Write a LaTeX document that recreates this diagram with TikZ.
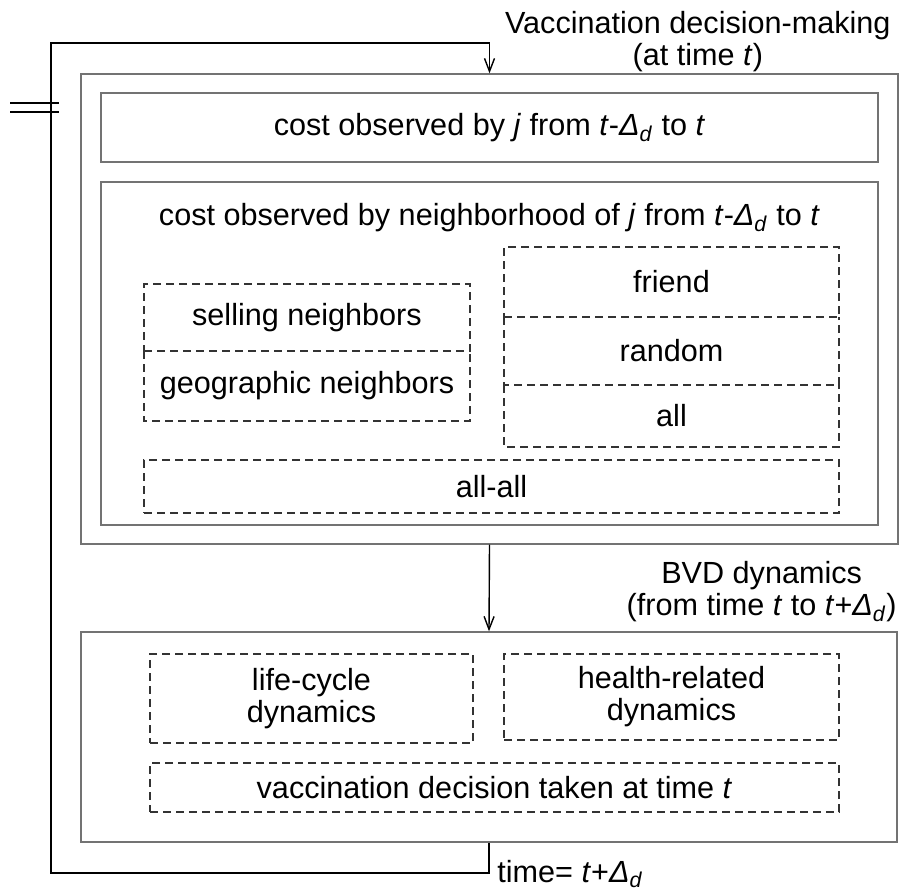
\documentclass[tikz,border=0pt]{standalone}
\usepackage{fontspec}
\setmainfont{Liberation Sans}
\usetikzlibrary{arrows.meta,fit,positioning}

\tikzset{
  frame/.style={draw=black!55, line width=0.7pt, inner sep=0pt},
  option/.style={draw=black!80, dash pattern=on 4pt off 2.5pt, line width=0.7pt, inner sep=0pt, outer sep=0pt},
  stacked/.style={inner sep=0pt, outer sep=0pt},
  dashline/.style={draw=black!80, dash pattern=on 4pt off 2.5pt, line width=0.7pt},
  feedback/.style={draw=black, line width=0.7pt},
  caption/.style={inner sep=0pt, align=center},
  every label/.style={align=center, inner sep=0pt},
}

\begin{document}
\begin{tikzpicture}[x=0.5pt, y=-0.5pt, line join=miter,
    >={Straight Barb[length=6.5pt,width=5pt]},
    font=\fontsize{15.3}{16}\selectfont]
  \useasboundingbox (0,0) rectangle (900,894);

  % Vaccination decision-making block
  \node[frame, fit={(81,74) (898,544)}] (decision) {};
  \node[frame, fit={(101,93) (878,162)},
    label={center:cost observed by \textit{j} from \textit{t}-\textit{Δ}\textsubscript{\textit{d}} to \textit{t}}] (own) {};
  \node[frame, fit={(101,182) (878,525)}] (hood) {};
  \node (hoodtitle) at (489.5,218)
    {cost observed by neighborhood of \textit{j} from \textit{t}-\textit{Δ}\textsubscript{\textit{d}} to \textit{t}};

  % neighborhood options (lower boxes of a stack share the edge above)
  \node[option, fit={(144,284) (470,351)}, label={center:selling neighbors}] (selling) {};
  \node[stacked, fit={(144,351) (470,421)}, label={center:geographic neighbors}] (geo) {};
  \node[option, fit={(504,247) (839,317)}, label={center:friend}] (friend) {};
  \node[stacked, fit={(504,317) (839,385)}, label={center:random}] (random) {};
  \node[stacked, fit={(504,385) (839,447)}, label={center:all}] (all) {};
  \node[option, fit={(144,460) (839,513)}, label={center:all-all}] (allall) {};
  \foreach \opt in {geo, random, all}
    \draw[dashline] (\opt.north west) -- (\opt.south west) -- (\opt.south east) -- (\opt.north east);

  % BVD dynamics block
  \node[frame, fit={(81,632) (897,842)}] (bvd) {};
  \node[option, fit={(150,654) (473,743)}, label={center:life-cycle\\dynamics}] (life) {};
  \node[option, fit={(504,654) (839,740)}, label={center:health-related\\dynamics}] (health) {};
  \node[option, fit={(150,763) (839,812)}, label={center:vaccination decision taken at time \textit{t}}] (taken) {};

  % block captions
  \node[caption, anchor=north east] (declabel) at (891,11)
    {Vaccination decision-making\\(at time \textit{t})};
  \node[caption, anchor=north east] (bvdlabel) at (897,561)
    {BVD dynamics\\(from time \textit{t} to \textit{t}+\textit{Δ}\textsubscript{\textit{d}})};
  \node[inner sep=0pt, anchor=base west] (timelabel) at (497,882)
    {time= \textit{t}+\textit{Δ}\textsubscript{\textit{d}}};

  % connectors
  \coordinate (loopbl) at (51,873);
  \coordinate (looptl) at (51,43);
  \draw[feedback, ->] (decision.south) -- (bvd.north);
  \draw[feedback, ->] (bvd.south) |- (loopbl) -- (looptl) -| (decision.north);

  % break mark on the feedback line
  \draw[feedback] (10,103) -- (59,103) (10,112) -- (59,112);
\end{tikzpicture}
\end{document}
